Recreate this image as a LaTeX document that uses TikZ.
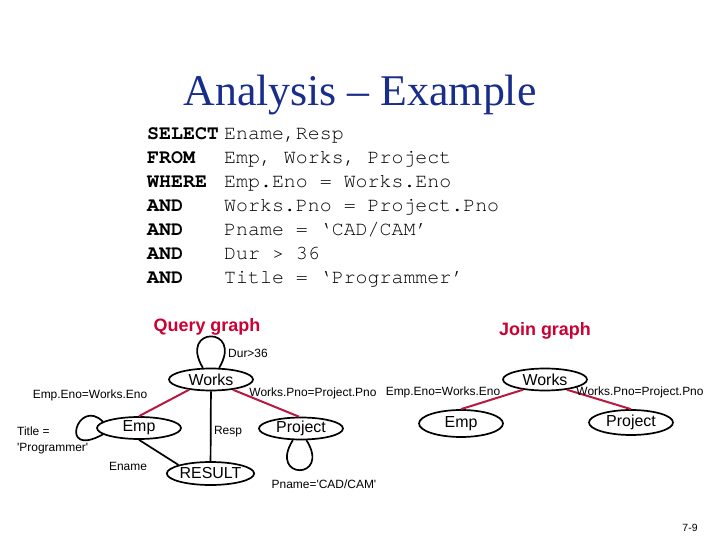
\documentclass[tikz,border=0pt]{standalone}
\usepackage{fontspec}
\setmainfont{Liberation Serif}
\setsansfont{Liberation Sans}
\setmonofont{texgyrecursor-regular.otf}[BoldFont=texgyrecursor-bold.otf]
\usetikzlibrary{shapes.geometric}
\definecolor{titleblue}{RGB}{25,45,140}
\definecolor{headred}{RGB}{204,0,51}
\definecolor{edgered}{RGB}{185,25,65}

\tikzset{
  rel/.style={ellipse, draw, line width=1.7bp, minimum width=84bp, minimum height=22bp,
    inner sep=0pt, font=\sffamily\fontsize{16}{18}\selectfont},
  pred/.style={font=\sffamily\fontsize{12}{16}\selectfont, inner sep=0pt},
  graphhead/.style={headred, font=\sffamily\bfseries\fontsize{18}{20}\selectfont, inner sep=0pt, anchor=base},
  joinedge/.style={edgered, line width=2bp},
  plainedge/.style={line width=1.7bp},
}

\begin{document}
\begin{tikzpicture}[x=1bp, y=-1bp]
  \fill[white] (0,0) rectangle (720,540);
  \useasboundingbox (0,0) rectangle (720,540);

  % title
  \node[titleblue, anchor=base, inner sep=0pt, font=\fontsize{44}{48}\selectfont] (title) at (360,106) {Analysis -- Example};

  % SQL query
  \foreach \kw/\rest [count=\i from 0] in {SELECT/{Ename,Resp}, FROM/{Emp, Works, Project},
      WHERE/{Emp.Eno = Works.Eno}, AND/{Works.Pno = Project.Pno}, AND/{Pname = ‘CAD/CAM’},
      AND/{Dur > 36}, AND/{Title = ‘Programmer’}} {
    \node[anchor=base west, inner sep=0pt, font=\ttfamily\bfseries\fontsize{20}{24}\selectfont] (kw\i) at (147,140+24*\i) {\kw};
    \node[anchor=base west, inner sep=0pt, font=\ttfamily\fontsize{20}{24}\selectfont] (cl\i) at (224,140+24*\i) {\rest};
  }

  % Query graph
  \node[graphhead] (qhead) at (207,331) {Query graph};
  \node[rel] (qworks) at (211,379.5) {Works};
  \node[rel] (qemp) at (139,428) {Emp};
  \node[rel] (qproj) at (301,428.5) {Project};
  \node[rel, minimum height=23bp] (qres) at (210.5,473.5) {RESULT};

  \draw[joinedge] (qworks.205) -- (qemp.north);
  \draw[joinedge] (qworks.335) -- (qproj.100);
  \draw[plainedge] (qworks) -- (qres);
  \draw[plainedge] (qemp.south) -- (qres.165);
  % selections as loops
  \draw[plainedge] (qworks.125) .. controls +(-25,-42) and +(25,-42) .. (qworks.55);
  \draw[plainedge] (qemp.170) .. controls +(-25,-25) and +(-45,25) .. (qemp.190);
  \draw[plainedge] (qproj.235) .. controls +(-25,40) and +(25,40) .. (qproj.295);

  \node[pred, anchor=base] (qdur) at (248,357.5) {Dur>36};
  \node[pred, anchor=base] (qeno) at (90,398) {Emp.Eno=Works.Eno};
  \node[pred, anchor=base] (qpno) at (313,396.5) {Works.Pno=Project.Pno};
  \node[pred, anchor=north west, align=left] (qtitle) at (17,427) {Title =\\\textquotesingle Programmer\textquotesingle};
  \node[pred, anchor=base] (qresp) at (228,434.5) {Resp};
  \node[pred, anchor=base] (qename) at (128,470.5) {Ename};
  \node[pred, anchor=base] (qpname) at (324,488.5) {Pname=\textquotesingle CAD/CAM\textquotesingle};

  % Join graph
  \node[graphhead] (jhead) at (545,335) {Join graph};
  \node[rel] (jworks) at (545,379.5) {Works};
  \node[rel, minimum height=27bp] (jemp) at (461,423.5) {Emp};
  \node[rel, minimum height=25bp] (jproj) at (631,422.5) {Project};

  \draw[joinedge] (jworks.205) -- (jemp.north);
  \draw[joinedge] (jworks.335) -- (jproj.north);

  \node[pred, anchor=base] (jeno) at (443,395.5) {Emp.Eno=Works.Eno};
  \node[pred, anchor=base] (jpno) at (640,395.5) {Works.Pno=Project.Pno};

  % page number
  \node[pred, anchor=base, font=\sffamily\fontsize{10.5}{12}\selectfont] (pageno) at (690,531) {7-9};
\end{tikzpicture}
\end{document}
